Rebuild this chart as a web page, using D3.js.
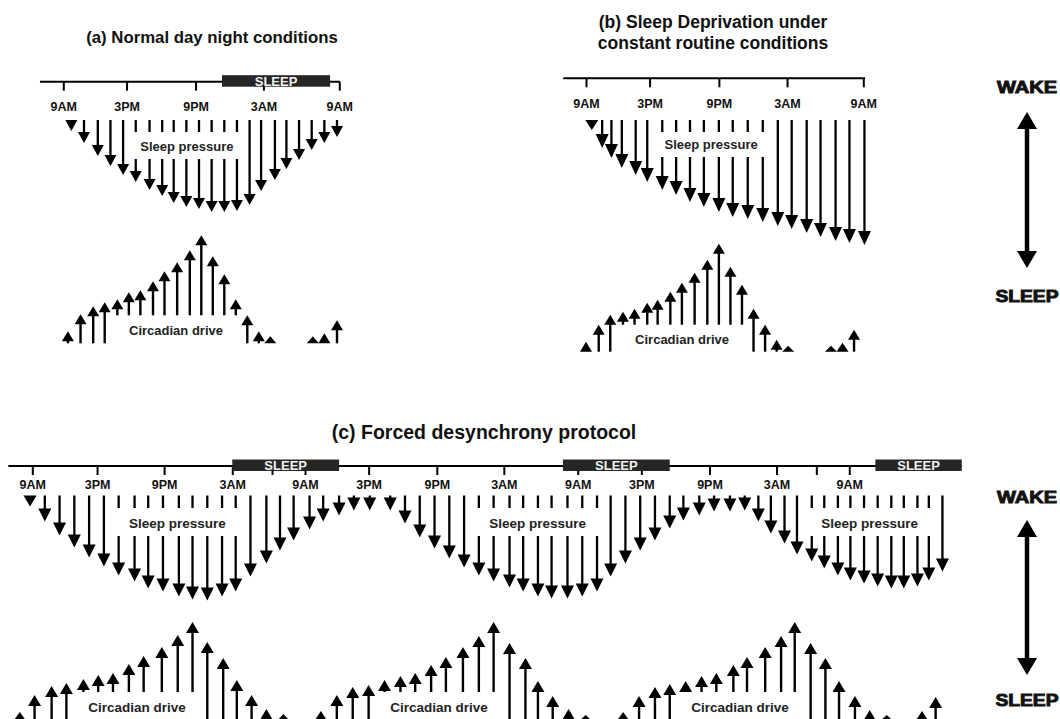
<!DOCTYPE html>
<html><head><meta charset="utf-8">
<script src="https://cdn.jsdelivr.net/npm/d3@7"></script>
<style>body{margin:0;background:#fff;} svg{display:block;font-family:"Liberation Sans",Arial,sans-serif;}</style>
</head><body>
<script>
// ---------- DATA (hours since 9AM on the clock axis) ----------
const clockTicksAB = [0, 5.5, 11.5, 17.4, 24];
const clockLabelsAB = ["9AM", "3PM", "9PM", "3AM", "9AM"];
const sleepA = [[13.8, 23.2]];
const sleepB = [];

const pressureHoursA = [0.7,1.8,3.0,4.1,5.2,6.3,7.5,8.6,9.6,10.7,11.8,12.9,14.0,15.1,16.2,17.2,18.4,19.4,20.5,21.6,22.7,23.8];
const pressureA      = [11,23,36,46,55,62,70,76,83,87,89,92,92,91,85,71,60,49,40,30,23,17];
const circadianHoursA = [0.4,1.5,2.6,3.6,4.7,5.7,6.7,7.8,8.8,9.9,11.0,12.0,13.0,14.0,15.0,16.0,17.0,18.0,21.7,22.7,23.8];
const circadianA      = [12,29,37,41,44,51,53,62,72,81,93,108,87,69,44,28,12,7,7,10,23];

const pressureHoursB = [0.5,1.4,2.2,3.1,4.3,5.3,6.6,7.8,9.0,10.2,11.5,12.7,14.0,15.3,16.6,17.8,19.1,20.3,21.6,22.8,24.1];
const pressureB      = [10,28,38,48,55,62,70,75,82,87,92,97,99,102,106,109,113,117,121,123,125];
const circadianHoursB = [0,1.1,2.1,3.2,4.2,5.3,6.2,7.3,8.3,9.4,10.5,11.5,12.5,13.5,14.5,15.5,16.5,17.5,21.2,22.2,23.2];
const circadianB      = [10,27,37,40,43,49,52,60,69,79,92,108,85,67,43,27,12,6,6,9,22];

const clockTicksC = [0,5.7,11.6,17.6,21.1,24,29.6,35.6,41.5,48,53.6,59.6,65.5,69,71.9];
const clockLabelsC = ["9AM","3PM","9PM","3AM","","9AM","3PM","9PM","3AM","9AM","3PM","9PM","3AM","","9AM"];
const sleepC = [[17.6, 27.0], [46.7, 56.1], [74.2, 81.8]];
const pressureHoursC = [-0.2,1.1,2.4,3.7,5.0,6.3,7.6,9.0,10.2,11.5,12.9,14.1,15.4,16.7,17.9,19.2,20.6,21.8,23.0,24.4,
  25.6,27.0,28.3,29.7,31.5,32.8,34.1,35.4,36.7,38.0,39.3,40.6,42.0,43.2,44.5,45.7,47.1,48.4,49.7,50.9,
  52.2,53.5,54.8,56.1,57.3,58.7,60.0,61.4,62.7,63.9,65.0,66.2,67.3,68.6,69.7,70.9,72.0,73.2,74.4,75.6,
  76.7,77.9,78.9,80.1];
const pressureC = [11,26,40,52,62,71,80,86,93,96,101,104,105,101,96,81,68,55,45,34,
  26,20,15,15,15,28,42,53,63,72,80,86,92,96,101,103,103,101,96,81,
  68,55,45,33,25,20,16,16,15,26,38,48,59,66,73,80,85,88,91,93,
  93,91,85,76];
const circadianHoursC = [-1.1,0.2,1.7,3.0,4.5,5.8,7.1,8.5,9.8,11.4,12.8,14.1,15.4,16.8,18.0,19.3,20.6,22.1,
  25.4,26.8,28.2,29.6,31.0,32.4,33.7,35.1,36.4,37.9,39.3,40.6,42.0,43.4,44.5,45.8,47.2,48.7,
  52.0,53.4,54.8,56.1,57.5,58.9,60.2,61.7,62.9,64.5,65.9,67.1,68.5,69.8,71.0,72.4,73.7,75.2,78.3,79.5];
const circadianC = [9,26,35,38,42,46,48,57,65,74,86,99,79,63,41,26,12,7,
  10,26,34,36,41,45,48,56,64,74,85,99,78,63,40,25,12,6,
  9,25,34,37,40,45,48,56,64,74,85,99,78,63,40,25,11,6,10,24];

// ---------- DRAWING ----------
const W = 1060, H = 719;
const svg = d3.select("body").append("svg").attr("width", W).attr("height", H);
const FONT = '"Liberation Sans", Arial, sans-serif';

function downArrow(g, x, y0, y1, hw, hh, sw) {
  const len = y1 - y0, h = Math.min(hh, len);
  if (len > hh) g.append("line").attr("x1", x).attr("x2", x).attr("y1", y0).attr("y2", y1 - h + 1)
    .attr("stroke", "#000").attr("stroke-width", sw);
  g.append("path").attr("d", `M${x - hw / 2},${y1 - h}L${x + hw / 2},${y1 - h}L${x},${y1}Z`).attr("fill", "#000");
}
function upArrow(g, x, y0, y1, hw, hh, sw) {
  const len = y0 - y1, h = Math.min(hh, len);
  if (len > hh) g.append("line").attr("x1", x).attr("x2", x).attr("y1", y0).attr("y2", y1 + h - 1)
    .attr("stroke", "#000").attr("stroke-width", sw);
  g.append("path").attr("d", `M${x - hw / 2},${y1 + h}L${x + hw / 2},${y1 + h}L${x},${y1}Z`).attr("fill", "#000");
}

function panel(c) {
  const g = svg.append("g");
  const x = d3.scaleLinear().domain([0, 24]).range(c.xRange);

  // timeline
  g.append("line").attr("x1", x(c.lineSpan[0])).attr("x2", x(c.lineSpan[1]))
    .attr("y1", c.lineY).attr("y2", c.lineY).attr("stroke", "#000").attr("stroke-width", 2);
  const axis = d3.axisBottom(x).tickValues(c.ticks).tickSize(9).tickPadding(c.tickPad)
    .tickFormat((d, i) => c.labels[i]);
  const ag = g.append("g").attr("transform", `translate(0,${c.lineY})`).call(axis);
  ag.select(".domain").remove();
  ag.attr("font-family", FONT).attr("font-size", c.tickFont).attr("font-weight", "bold");
  ag.selectAll(".tick line").attr("stroke", "#000").attr("stroke-width", 2);
  ag.selectAll(".tick text").attr("fill", "#111");

  // sleep bars
  c.sleep.forEach(s => {
    g.append("rect").attr("x", x(s[0])).attr("width", x(s[1]) - x(s[0]))
      .attr("y", c.lineY - 6.5).attr("height", 11.5).attr("fill", "#262626");
    g.append("text").attr("x", (x(s[0]) + x(s[1])) / 2).attr("y", c.lineY + 4)
      .attr("text-anchor", "middle").attr("font-size", 13).attr("font-weight", "bold")
      .attr("fill", "#f2f2f2").text("SLEEP");
  });

  // sleep pressure (down arrows)
  const yP = d3.scaleLinear().domain([0, 100]).range([c.pTop, c.pTop + 100]);
  c.pHours.forEach((h, i) => downArrow(g, x(h), c.pTop, yP(c.pVals[i]), c.dHead[0], c.dHead[1], 2.3));
  c.pBoxes.forEach(b => {
    g.append("rect").attr("x", x(b[0])).attr("width", x(b[1]) - x(b[0]))
      .attr("y", c.pTop + c.pBoxY[0]).attr("height", c.pBoxY[1] - c.pBoxY[0]).attr("fill", "#fff");
    g.append("text").attr("x", (x(b[0]) + x(b[1])) / 2).attr("y", c.pTop + c.pTextY)
      .attr("text-anchor", "middle").attr("font-size", c.labFont).attr("font-weight", "bold")
      .attr("fill", "#222").text("Sleep pressure");
  });

  // circadian drive (up arrows)
  const yC = d3.scaleLinear().domain([0, 100]).range([c.cBase, c.cBase - 100]);
  c.cHours.forEach((h, i) => upArrow(g, x(h), c.cBase, yC(c.cVals[i]), c.uHead[0], c.uHead[1], 2.4));
  c.cBoxes.forEach(b => {
    g.append("rect").attr("x", x(b[0])).attr("width", x(b[1]) - x(b[0]))
      .attr("y", c.cBase + c.cBoxY[0]).attr("height", c.cBoxY[1] - c.cBoxY[0]).attr("fill", "#fff");
    g.append("text").attr("x", (x(b[0]) + x(b[1])) / 2).attr("y", c.cBase + c.cTextY)
      .attr("text-anchor", "middle").attr("font-size", c.labFont).attr("font-weight", "bold")
      .attr("fill", "#222").text("Circadian drive");
  });
}

panel({
  xRange: [63.3, 339.3], lineSpan: [-2.03, 24.06], lineY: 81.7, tickPad: 11.5, tickFont: 12.5,
  ticks: clockTicksAB, labels: clockLabelsAB, sleep: sleepA,
  pTop: 120, pHours: pressureHoursA, pVals: pressureA, dHead: [12, 11],
  pBoxes: [[5.8, 15.7]], pBoxY: [12, 39], pTextY: 30.5,
  cBase: 343.3, cHours: circadianHoursA, cVals: circadianA, uHead: [12, 10],
  cBoxes: [[4.15, 15.45]], cBoxY: [-28, 1], cTextY: -8.5, labFont: 13
});
panel({
  xRange: [586, 863.3], lineSpan: [-1.97, 24.16], lineY: 78.3, tickPad: 11.5, tickFont: 12.5,
  ticks: clockTicksAB, labels: clockLabelsAB, sleep: sleepB,
  pTop: 120, pHours: pressureHoursB, pVals: pressureB, dHead: [13, 14],
  pBoxes: [[6.06, 15.6]], pBoxY: [12, 37], pTextY: 28.5,
  cBase: 351.7, cHours: circadianHoursB, cVals: circadianB, uHead: [12, 10],
  cBoxes: [[2.6, 14.03]], cBoxY: [-27, 1], cTextY: -7.5, labFont: 13
});
panel({
  xRange: [32.3, 305], lineSpan: [-2.11, 81.8], lineY: 466, tickPad: 5.5, tickFont: 12.5,
  ticks: clockTicksC, labels: clockLabelsC, sleep: sleepC,
  pTop: 495.5, pHours: pressureHoursC, pVals: pressureC, dHead: [13, 13],
  pBoxes: [[7.0, 18.55], [38.62, 50.33], [67.93, 79.46]], pBoxY: [12.5, 40.5], pTextY: 32,
  cBase: 721, cHours: circadianHoursC, cVals: circadianC, uHead: [13, 11],
  cBoxes: [[3.67, 14.76], [30.25, 41.35], [56.75, 67.84]], cBoxY: [-29, 1], cTextY: -9.5, labFont: 13.5
});

// titles
function title(txt, x, y, size) {
  svg.append("text").attr("x", x).attr("y", y).attr("text-anchor", "middle")
    .attr("font-size", size).attr("font-weight", "bold").attr("fill", "#111").text(txt);
}
title("(a) Normal day night conditions", 212, 43, 16.8);
title("(b) Sleep Deprivation under", 713, 27.5, 17.5);
title("constant routine conditions", 713, 49, 17.5);
title("(c) Forced desynchrony protocol", 484, 439, 19.5);

// WAKE / SLEEP legends
function legend(xc, wakeY, top, bot, sleepY) {
  const g = svg.append("g");
  const t = (s, y, len) => g.append("text").attr("x", xc).attr("y", y).attr("text-anchor", "middle")
    .attr("font-size", 16).attr("font-weight", "bold").attr("fill", "#111").attr("stroke", "#111")
    .attr("stroke-width", 0.9).attr("textLength", len).attr("lengthAdjust", "spacingAndGlyphs").text(s);
  t("WAKE", wakeY, 60);
  t("SLEEP", sleepY, 63);
  const hw = 20, hh = 17;
  g.append("line").attr("x1", xc).attr("x2", xc).attr("y1", top + hh - 1).attr("y2", bot - hh + 1)
    .attr("stroke", "#000").attr("stroke-width", 4.5);
  g.append("path").attr("d", `M${xc - hw / 2},${top + hh}L${xc + hw / 2},${top + hh}L${xc},${top}Z`).attr("fill", "#000");
  g.append("path").attr("d", `M${xc - hw / 2},${bot - hh}L${xc + hw / 2},${bot - hh}L${xc},${bot}Z`).attr("fill", "#000");
}
legend(1027, 93, 112, 268, 302);
legend(1027, 503, 520, 675, 706);
</script>
</body></html>
